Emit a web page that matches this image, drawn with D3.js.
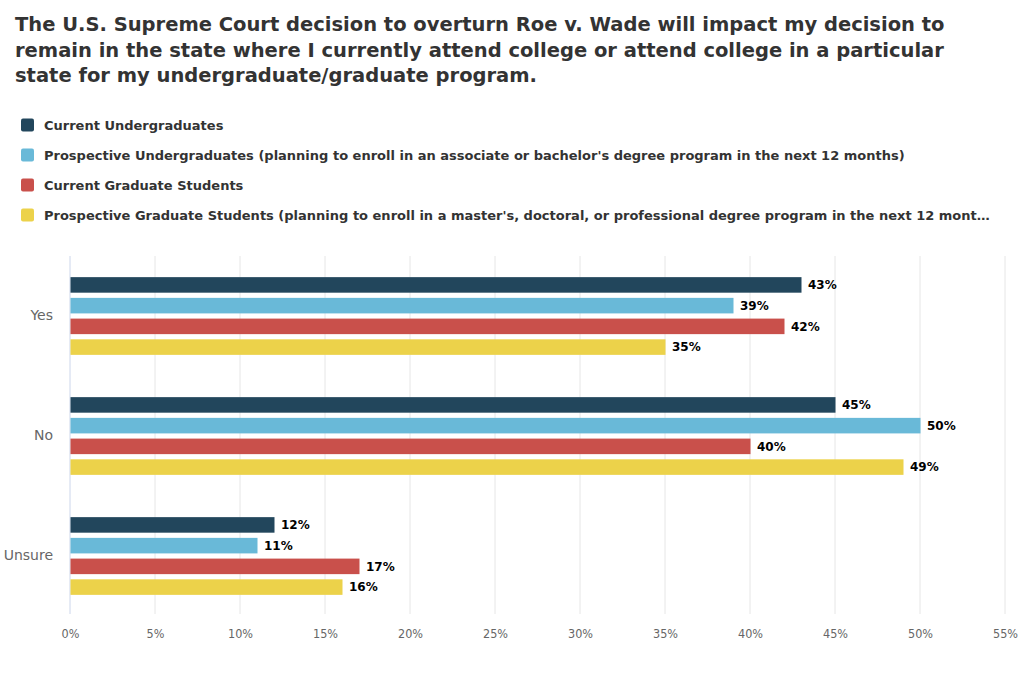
<!DOCTYPE html>
<html><head><meta charset="utf-8">
<script src="https://cdn.jsdelivr.net/npm/d3@7"></script>
<style>
body{margin:0;background:#fff;}
svg{display:block;font-family:"DejaVu Sans",sans-serif;}
</style></head>
<body><svg id="c" width="1024" height="673"></svg>
<script>
const titleLines = [
  "The U.S. Supreme Court decision to overturn Roe v. Wade will impact my decision to",
  "remain in the state where I currently attend college or attend college in a particular",
  "state for my undergraduate/graduate program."
];
const categories = ["Yes", "No", "Unsure"];
const seriesNames = [
  "Current Undergraduates",
  "Prospective Undergraduates (planning to enroll in an associate or bachelor's degree program in the next 12 months)",
  "Current Graduate Students",
  "Prospective Graduate Students (planning to enroll in a master's, doctoral, or professional degree program in the next 12 months)"
];
const currentUndergrad = [43, 45, 12];
const prospectiveUndergrad = [39, 50, 11];
const currentGrad = [42, 40, 17];
const prospectiveGrad = [35, 49, 16];
const xTicks = [0, 5, 10, 15, 20, 25, 30, 35, 40, 45, 50, 55];
const colors = ["#22465c", "#69b9d8", "#c9504b", "#ecd24a"];

const seriesValues = [currentUndergrad, prospectiveUndergrad, currentGrad, prospectiveGrad];
const svg = d3.select("#c");

// Title
const title = svg.append("text").attr("fill", "#333").attr("font-weight", "bold").attr("font-size", 19.5);
titleLines.forEach((t, i) => {
  title.append("tspan").attr("x", 15).attr("y", 31 + i * 25.5).text(t);
});

// Legend
const legendMaxW = 948;
seriesNames.forEach((name, i) => {
  const g = svg.append("g").attr("transform", `translate(21,${125 + i * 30})`);
  g.append("rect").attr("x", 0).attr("y", -6.5).attr("width", 13).attr("height", 13).attr("rx", 2).attr("fill", colors[i]);
  const t = g.append("text").attr("x", 23).attr("y", 5).attr("font-size", 13).attr("font-weight", "bold").attr("fill", "#333").text(name);
  if (t.node().getComputedTextLength() > legendMaxW) {
    let s = name;
    while (s.length > 0) {
      s = s.slice(0, -1);
      t.text(s + "…");
      if (t.node().getComputedTextLength() <= legendMaxW) break;
    }
  }
});

// Scales
const x = d3.scaleLinear().domain([0, 55]).range([70, 1005]);
const y = d3.scaleBand().domain(categories).range([256, 616]).paddingInner(0).paddingOuter(0);
const inner = d3.scaleBand().domain(d3.range(4)).range([0, y.bandwidth()]).paddingInner(0.25).paddingOuter(1.02);

// Gridlines
svg.append("g").selectAll("line").data(xTicks.slice(1)).join("line")
  .attr("x1", d => x(d)).attr("x2", d => x(d)).attr("y1", 256).attr("y2", 614)
  .attr("stroke", "#e6e6e6").attr("stroke-width", 1);
svg.append("line").attr("x1", x(0)).attr("x2", x(0)).attr("y1", 256).attr("y2", 614)
  .attr("stroke", "#ccd6eb").attr("stroke-width", 1);

// X axis labels
const xAxis = d3.axisBottom(x).tickValues(xTicks).tickFormat(d => d + "%").tickSize(0).tickPadding(0);
const xg = svg.append("g").attr("transform", "translate(0,627)").call(xAxis);
xg.select(".domain").remove();
xg.selectAll("text").attr("font-size", 12.5).attr("fill", "#666").attr("font-family", "'Liberation Sans Narrow','DejaVu Sans Condensed',sans-serif").attr("dy", "0.9em");

// Y axis labels
const yAxis = d3.axisLeft(y).tickSize(0).tickPadding(0);
const yg = svg.append("g").attr("transform", "translate(53,0)").call(yAxis);
yg.select(".domain").remove();
yg.selectAll("text").attr("font-size", 14).attr("fill", "#666").attr("font-family", "'DejaVu Sans',sans-serif");

// Bars
const groups = svg.append("g").selectAll("g").data(categories).join("g")
  .attr("transform", d => `translate(0,${y(d)})`);
groups.each(function(cat, ci) {
  const g = d3.select(this);
  const data = seriesValues.map((vals, si) => ({si, v: vals[ci]}));
  g.selectAll("rect").data(data).join("rect")
    .attr("x", x(0) + 0.5)
    .attr("y", d => inner(d.si))
    .attr("width", d => x(d.v) - x(0))
    .attr("height", inner.bandwidth())
    .attr("fill", d => colors[d.si]);
  g.selectAll("text").data(data).join("text")
    .attr("x", d => x(d.v) + 7)
    .attr("y", d => inner(d.si) + inner.bandwidth() / 2)
    .attr("dy", "0.35em")
    .attr("font-size", 12)
    .attr("font-weight", "bold")
    .attr("fill", "#000")
    .text(d => d.v + "%");
});
</script>
</body></html>
